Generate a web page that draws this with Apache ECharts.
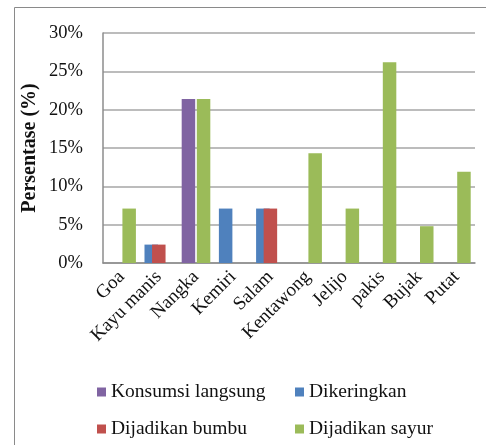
<!DOCTYPE html>
<html><head><meta charset="utf-8">
<script src="https://cdn.jsdelivr.net/npm/echarts@6/dist/echarts.min.js"></script>
<style>html,body{margin:0;padding:0;background:#fff}#c{width:486px;height:445px}</style>
</head><body><div id="c"></div>
<script>
var categories = ['Goa','Kayu manis','Nangka','Kemiri','Salam','Kentawong','Jelijo','pakis','Bujak','Putat'];
var konsumsiLangsung = [null, null, 21.4, null, null, null, null, null, null, null];
var dikeringkan      = [null, 2.4, null, 7.1, 7.1, null, null, null, null, null];
var dijadikanBumbu   = [null, 2.4, null, null, 7.1, null, null, null, null, null];
var dijadikanSayur   = [7.1, null, 21.4, null, null, 14.3, 7.1, 26.2, 4.8, 11.9];
var yTicks = [0, 5, 10, 15, 20, 25, 30];
var seriesNames = ['Konsumsi langsung','Dikeringkan','Dijadikan bumbu','Dijadikan sayur'];
var colors = ['#8064A2','#4F81BD','#C0504D','#9BBB59'];

var font = '"Liberation Serif","DejaVu Serif",serif';
var chart = echarts.init(document.getElementById('c'), null, {renderer:'canvas'});
var bw = 13.5;
function legend(i, left, top){
  return {data:[seriesNames[i]], left:left, top:top, itemWidth:9, itemHeight:9, itemGap:0,
    icon:'rect', padding:0, textStyle:{fontFamily:font, fontSize:19.5, color:'#111', padding:[0,0,0,0]}};
}
chart.setOption({
  animation:false,
  color: colors,
  graphic:[{type:'polyline', shape:{points:[[14.5,450],[14.5,7.5],[490,7.5]]}, style:{stroke:'#8a8a8a', lineWidth:1, fill:null}}],
  legend:[legend(0,97,382), legend(1,295,382), legend(2,97,419), legend(3,295,419)],
  grid:{left:103, right:11, top:33, bottom:182, containLabel:false},
  xAxis:{type:'category', data:categories,
    axisLine:{lineStyle:{color:'#8c8c8c', width:1.5}}, axisTick:{show:false},
    axisLabel:{rotate:45, interval:0, margin:11, fontFamily:font, fontSize:19, color:'#111'}},
  yAxis:{type:'value', min:0, max:30, interval:5,
    name:'Persentase (%)', nameLocation:'middle', nameGap:63, nameMoveOverlap:false,
    nameTextStyle:{fontFamily:font, fontSize:20, fontWeight:'bold', color:'#111'},
    axisLine:{show:true, lineStyle:{color:'#8c8c8c', width:1.5}}, axisTick:{show:false},
    splitLine:{lineStyle:{color:'#a6a6a6', width:1.5}},
    axisLabel:{margin:20, fontFamily:font, fontSize:18.5, color:'#111', formatter:function(v){return v+'%';}}},
  series:[
    {name:seriesNames[0], type:'bar', stack:'pb', data:konsumsiLangsung, barWidth:bw, barGap:'-44%'},
    {name:seriesNames[1], type:'bar', stack:'pb', data:dikeringkan, barWidth:bw, barGap:'-44%'},
    {name:seriesNames[2], type:'bar', data:dijadikanBumbu, barWidth:bw, barGap:'-44%'},
    {name:seriesNames[3], type:'bar', data:dijadikanSayur, barWidth:bw, barGap:'-44%'}
  ]
});
</script></body></html>
